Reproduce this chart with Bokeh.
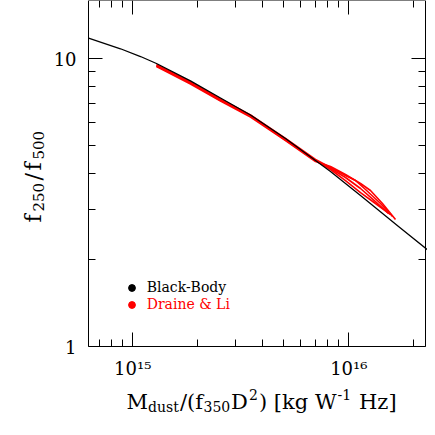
import math
from bokeh.plotting import figure
from bokeh.models import LogAxis, FixedTicker, Label, Legend, LegendItem
from bokeh.embed import file_html
from bokeh.resources import INLINE

# ---------------- data ----------------
bb_mass = [6.24e14, 8.77e14, 1.086e15, 1.287e15, 1.849e15, 2.547e15, 3.507e15,
           5.093e15, 8.228e15, 1.133e16, 1.699e16, 2.494e16]
bb_ratio = [11.76, 10.81, 10.16, 9.608, 8.36, 7.293, 6.365, 5.275, 4.052, 3.344, 2.610, 2.070]

dl_mass_1 = [1.287e15, 1.849e15, 2.547e15, 3.507e15, 5.093e15, 7.013e15, 8.228e15,
             9.654e15, 1.133e16, 1.329e16, 1.527e16]
dl_ratio_1 = [9.46, 8.22, 7.18, 6.32, 5.23, 4.42, 4.150, 3.862, 3.537, 3.187, 2.896]

dl_mass_2 = [1.287e15, 1.849e15, 2.547e15, 3.507e15, 5.093e15, 7.013e15, 8.228e15,
             9.654e15, 1.074e16, 1.195e16, 1.402e16, 1.594e16]
dl_ratio_2 = [9.53, 8.29, 7.24, 6.37, 5.28, 4.46, 4.183, 3.924, 3.770, 3.509, 3.137, 2.828]

dl_mass_3 = [1.287e15, 1.849e15, 2.547e15, 3.507e15, 5.093e15, 7.013e15, 8.228e15,
             9.654e15, 1.133e16, 1.260e16, 1.432e16, 1.645e16]
dl_ratio_3 = [9.38, 8.16, 7.12, 6.26, 5.19, 4.39, 4.217, 3.956, 3.681, 3.481, 3.137, 2.761]

dl_mass_4 = [1.287e15, 1.849e15, 2.547e15, 3.507e15, 5.093e15, 7.013e15, 8.228e15,
             9.654e15, 1.133e16, 1.329e16, 1.560e16]
dl_ratio_4 = [9.42, 8.25, 7.15, 6.34, 5.21, 4.43, 4.117, 3.770, 3.425, 3.137, 2.873]

dl_masses = [dl_mass_1, dl_mass_2, dl_mass_3, dl_mass_4]
dl_ratios = [dl_ratio_1, dl_ratio_2, dl_ratio_3, dl_ratio_4]

x_major = [1e15, 1e16]
x_major_labels = ["10\u00b9\u2075", "10\u00b9\u2076"]
x_minor = [7e14, 8e14, 9e14, 2e15, 3e15, 4e15, 5e15, 6e15, 7e15, 8e15, 9e15, 2e16]
y_major = [1.0, 10.0]
y_major_labels = ["1", "10"]
y_minor = [2.0, 3.0, 4.0, 5.0, 6.0, 7.0, 8.0, 9.0]

legend_labels = ["Black-Body", "Draine & Li"]

FONT = "DejaVu Serif"
W, H = 427, 427

# plotting box (axes drawn at fixed locations so texts outside the box are not clipped)
box_x = (6.24e14, 2.277e16)
box_y = (1.0, 15.84)

# ---------------- figure ----------------
p = figure(width=W, height=H, x_axis_type="log", y_axis_type="log",
           x_range=(2.441e14, 2.314e16), y_range=(0.5234, 15.90),
           output_backend="svg", toolbar_location=None,
           min_border_left=0, min_border_right=0, min_border_top=0, min_border_bottom=0)
p.grid.visible = False
p.background_fill_color = "white"
p.border_fill_color = "white"
p.outline_line_color = None


def style_axis(ax, major, minor, overrides, font_size, standoff, loc, bounds):
    ax.ticker = FixedTicker(ticks=major, minor_ticks=minor)
    ax.fixed_location = loc
    ax.bounds = bounds
    ax.major_tick_in = 14
    ax.major_tick_out = 0
    ax.minor_tick_in = 7
    ax.minor_tick_out = 0
    ax.major_tick_line_color = "black"
    ax.minor_tick_line_color = "black"
    ax.axis_line_color = "black"
    ax.axis_line_width = 1
    ax.major_label_overrides = overrides
    ax.major_label_text_font = FONT
    ax.major_label_text_font_size = font_size
    ax.major_label_text_color = "black"
    ax.major_label_standoff = standoff


style_axis(p.below[0], x_major, x_minor, dict(zip(x_major, x_major_labels)), "18px", 11,
           box_y[0], box_x)
style_axis(p.left[0], y_major, y_minor, dict(zip(y_major, y_major_labels)), "18px", 12,
           box_x[0], box_y)

top_ax = LogAxis()
style_axis(top_ax, x_major, x_minor, {v: "" for v in x_major}, "1px", 0, box_y[1], box_x)
p.add_layout(top_ax, "above")
right_ax = LogAxis()
style_axis(right_ax, y_major, y_minor, {v: "" for v in y_major}, "1px", 0, box_x[1], box_y)
p.add_layout(right_ax, "right")

# ---------------- curves ----------------
for xs, ys in zip(dl_masses, dl_ratios):
    p.line(xs, ys, line_color="#ff0000", line_width=1.6)
p.line(bb_mass, bb_ratio, line_color="black", line_width=1.3)

# ---------------- legend ----------------
nan = float("nan")
r_bb = p.scatter(x=[nan], y=[nan], marker="circle", size=7, color="black")
r_dl = p.scatter(x=[nan], y=[nan], marker="circle", size=7, color="#ff0000")
# rows centred at y = 287.3 and 304.3 (picture pixels), glyph box 19 px wide
for lab, rend, col, cy in [(legend_labels[0], r_bb, "black", 287.3),
                           (legend_labels[1], r_dl, "#ff0000", 304.3)]:
    leg = Legend(items=[LegendItem(label=lab, renderers=[rend])],
                 location=(121.7, H - (cy + 8.5)),
                 glyph_width=19, glyph_height=17, label_height=17, label_standoff=6,
                 padding=0, margin=0, spacing=0, border_line_color=None,
                 background_fill_alpha=0, label_text_font=FONT,
                 label_text_font_size="14px", label_text_color=col)
    p.add_layout(leg)


# ---------------- axis titles (pieces for sub/superscripts) ----------------
def piece(text, x, y, size, angle=0.0, color="black"):
    p.add_layout(Label(x=x, y=H - y, x_units="screen", y_units="screen", text=text,
                       text_font=FONT, text_font_size=size, text_color=color,
                       text_align="left", text_baseline="alphabetic", angle=angle))


main_y, sub_y, sup_y = 401.7, 406.0, 394.0
piece("M", 126, main_y, "21px")
piece("dust", 147.5, sub_y, "14px")
piece("/(f", 179.5, main_y, "21px")
piece("350", 203, sub_y, "14px")
piece("D", 230.5, main_y, "21px")
piece("2", 248.5, sup_y, "14px")
piece(") [kg W", 258.5, main_y, "21px")
piece("-1", 337, sup_y, "14px")
piece("Hz]", 358.5, main_y, "21px")

rot = math.pi / 2
main_x, sub_x = 33.3, 37.8
piece("f", main_x, 222, "22px", rot)
piece("250", sub_x, 211, "15px", rot)
piece("/", main_x, 180, "22px", rot)
piece("f", main_x, 170, "22px", rot)
piece("500", sub_x, 159, "15px", rot)

open("out.html", "w").write(file_html(p, INLINE))
